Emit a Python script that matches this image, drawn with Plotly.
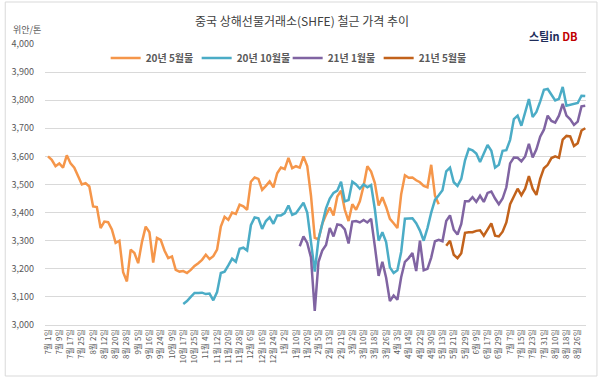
import plotly.graph_objects as go

# x-axis tick labels (one every 6 trading days = every 3 data periods)
tick_labels = ["7월 1일", "7월 9일", "7월 17일", "7월 25일", "8월 2일", "8월 12일", "8월 20일", "8월 28일",
               "9월 5일", "9월 16일", "9월 24일", "10월 9일", "10월 17일", "10월 25일", "11월 4일", "11월 12일",
               "11월 20일", "11월 28일", "12월 6일", "12월 16일", "12월 24일", "1월 2일", "1월 10일", "1월 20일",
               "2월 5일", "2월 13일", "2월 21일", "3월 2일", "3월 10일", "3월 18일", "3월 26일", "4월 3일",
               "4월 14일", "4월 22일", "4월 30일", "5월 13일", "5월 21일", "5월 29일", "6월 9일", "6월 17일",
               "6월 29일", "7월 7일", "7월 15일", "7월 23일", "7월 31일", "8월 10일", "8월 18일", "8월 26일"]
periods_per_label = 3

# series names
names = ["20년 5월물", "20년 10월물", "21년 1월물", "21년 5월물"]

# first period index of each contract
start_may20 = 0
start_oct20 = 36
start_jan21 = 67
start_may21 = 106

may20 = [3600, 3588, 3565, 3575, 3560, 3604, 3575, 3560, 3530, 3500,
         3505, 3493, 3422, 3420, 3345, 3368, 3366, 3340, 3292, 3300,
         3188, 3155, 3268, 3256, 3220, 3295, 3350, 3330, 3222, 3310,
         3303, 3265, 3238, 3244, 3196, 3190, 3192, 3185, 3196, 3210,
         3220, 3232, 3250, 3235, 3245, 3268, 3350, 3385, 3374, 3400,
         3395, 3428, 3422, 3410, 3510, 3525, 3520, 3481, 3495, 3511,
         3490, 3540, 3560, 3555, 3595, 3558, 3565, 3560, 3600, 3566,
         3460, 3310, 3305, 3360, 3392, 3418, 3390, 3457, 3478, 3410,
         3370, 3430, 3410, 3440, 3495, 3565, 3546, 3505, 3425, 3455,
         3420, 3378, 3362, 3345, 3465, 3533, 3524, 3525, 3515, 3508,
         3495, 3490, 3570, 3460, 3430]

oct20 = [3075, 3085, 3100, 3114, 3114, 3115, 3110, 3112, 3088, 3117,
         3185, 3190, 3212, 3236, 3225, 3271, 3275, 3265, 3355, 3383,
         3380, 3342, 3370, 3383, 3360, 3390, 3390, 3398, 3425, 3392,
         3398, 3416, 3435, 3400, 3300, 3190, 3305, 3360, 3415, 3450,
         3470, 3478, 3510, 3440, 3445, 3510, 3500, 3485, 3500, 3490,
         3498, 3412, 3300, 3330, 3295, 3205, 3185, 3195, 3260, 3378,
         3380, 3380, 3362, 3336, 3300, 3345, 3400, 3445, 3462, 3480,
         3547, 3560, 3508, 3495, 3520, 3586, 3627, 3622, 3610, 3580,
         3610, 3641, 3620, 3560, 3570, 3620, 3622, 3659, 3733, 3745,
         3709, 3756, 3804, 3740, 3758, 3795, 3837, 3840, 3819, 3799,
         3805, 3847, 3780, 3784, 3786, 3790, 3816, 3815]

jan21 = [3280, 3315, 3292, 3240, 3050, 3225, 3265, 3285, 3345, 3315,
         3358, 3355, 3340, 3290, 3368, 3370, 3365, 3374, 3365, 3378,
         3280, 3175, 3225, 3168, 3085, 3105, 3090, 3170, 3225, 3238,
         3256, 3192, 3300, 3195, 3200, 3240, 3298, 3303, 3298, 3370,
         3390, 3339, 3322, 3360, 3440, 3440, 3455, 3438, 3460, 3438,
         3470, 3475, 3450, 3430, 3450, 3490, 3575, 3596, 3595, 3582,
         3600, 3645, 3596, 3625, 3670, 3695, 3745, 3726, 3720, 3745,
         3787, 3745, 3732, 3712, 3724, 3778, 3780]

may21 = [3282, 3300, 3250, 3238, 3255, 3328, 3330, 3330, 3335, 3337,
         3318, 3339, 3362, 3318, 3315, 3332, 3365, 3430, 3457, 3485,
         3462, 3485, 3530, 3485, 3463, 3520, 3558, 3570, 3594, 3600,
         3595, 3660, 3673, 3671, 3637, 3647, 3692, 3700]

colors = ["#F5964A", "#4BACC6", "#8064A2", "#C2621B"]
series = [(may20, start_may20), (oct20, start_oct20), (jan21, start_jan21), (may21, start_may21)]

FONT = "Noto Sans CJK KR"
fig = go.Figure()
for (vals, st), nm, c in zip(series, names, colors):
    fig.add_trace(go.Scatter(
        x=list(range(st, st + len(vals))), y=vals, name=nm, mode="lines",
        line=dict(color=c, width=2.5), hoverinfo="skip"))

L, R, T, B = 42, 14, 44, 54
W, H = 600, 379
pw, ph = W - L - R, H - T - B
def px(x): return (x - L) / pw
def py(y): return (H - B - y) / ph

fig.update_layout(
    width=W, height=H,
    margin=dict(l=L, r=R, t=T, b=B),
    paper_bgcolor="white", plot_bgcolor="white",
    font=dict(family=FONT, color="#595959"),
    showlegend=True,
    legend=dict(orientation="h", x=px(103), y=py(58), xanchor="left", yanchor="middle",
                bgcolor="rgba(0,0,0,0)", itemwidth=30, tracegroupgap=0,
                entrywidth=46, entrywidthmode="pixels",
                font=dict(family=FONT, size=10, color="#595959", weight="bold")),
    xaxis=dict(range=[-0.8, 143.2],
               tickvals=[i * periods_per_label for i in range(len(tick_labels))],
               ticktext=tick_labels, tickangle=-90, showgrid=False,
               tickfont=dict(family=FONT, size=8, color="#595959"),
               showline=True, linecolor="#d9d9d9", linewidth=1, ticks="", zeroline=False),
    yaxis=dict(range=[3000, 4000], dtick=100, tickformat=",", gridcolor="#d9d9d9", gridwidth=1,
               showline=False, zeroline=False, ticks="", ticklabelstandoff=10,
               tickfont=dict(family=FONT, size=9, color="#595959")),
    annotations=[
        dict(text="중국 상해선물거래소(SHFE) 철근 가격 추이", x=px(300), y=py(20), xref="paper", yref="paper",
             showarrow=False, xanchor="center", yanchor="middle",
             font=dict(family=FONT, size=12, color="#404040")),
        dict(text="위안/톤", x=px(8), y=py(29), xref="paper", yref="paper", showarrow=False,
             xanchor="left", yanchor="middle", font=dict(family=FONT, size=9, color="#595959")),
        dict(text="<b><span style='color:#1F2D5A'>스틸in</span> <span style='color:#C00000'>DB</span></b>",
             x=px(527), y=py(36), xref="paper", yref="paper", showarrow=False,
             xanchor="left", yanchor="middle", font=dict(family=FONT, size=11)),
    ],
    shapes=[dict(type="rect", xref="paper", yref="paper", x0=px(2), x1=px(597), y0=py(376), y1=py(2),
                 line=dict(color="#d9d9d9", width=1), fillcolor="rgba(0,0,0,0)", layer="below")],
)

fig.write_html("out.html", config={"displayModeBar": False},
               post_script="document.body.style.margin='0px';")
